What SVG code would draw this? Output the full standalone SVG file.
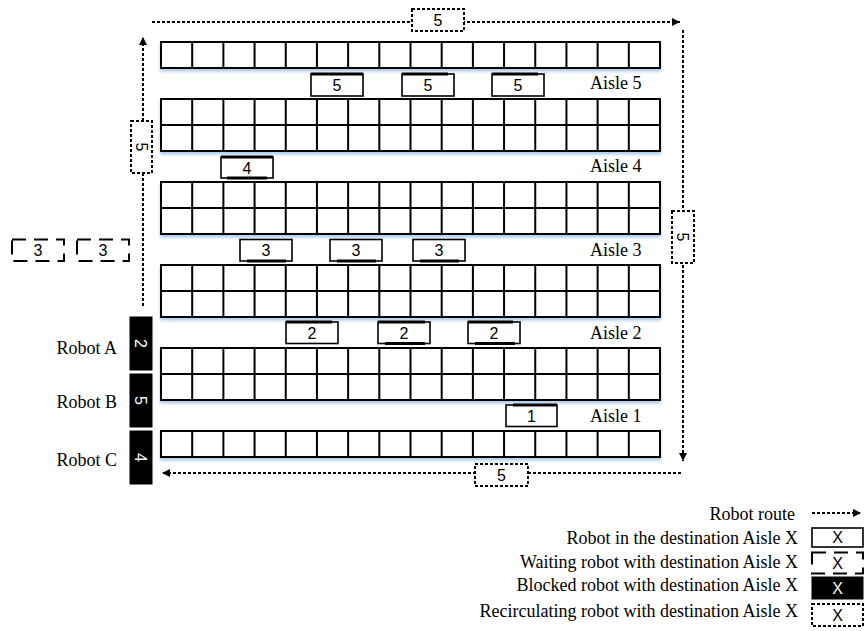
<svg xmlns="http://www.w3.org/2000/svg" width="864" height="631" viewBox="0 0 864 631">
<style>
.rk{fill:#fff;stroke:#000;stroke-width:2}
.gl{fill:none;stroke:#000;stroke-width:2}
.lbl{font-family:"Liberation Serif","Times New Roman",serif;font-size:18px;fill:#000}
.end{text-anchor:end}
.num{font-family:"Liberation Sans",Arial,sans-serif;font-size:16px;fill:#000;text-anchor:middle}
.numw{fill:#fff}
.rb{fill:#fff;stroke:#000;stroke-width:1.6}
.thk{stroke:#000;stroke-width:3.2;fill:none}
.route{fill:none;stroke:#000;stroke-width:2;stroke-dasharray:3 2}
.rc{fill:#fff;stroke:#000;stroke-width:2;stroke-dasharray:3 2}
.wt{fill:#fff;stroke:#000;stroke-width:2;stroke-dasharray:14 8}
.bk{fill:#000;stroke:#000;stroke-width:1}
</style>
<defs>
<filter id="glow" x="-5%" y="-30%" width="110%" height="170%">
<feDropShadow dx="0" dy="2.5" stdDeviation="1.6" flood-color="#8fbbe3" flood-opacity="0.75"/>
</filter>
<marker id="ah" markerUnits="userSpaceOnUse" markerWidth="10" markerHeight="10" refX="8" refY="4" orient="auto">
<path d="M0,0 L8,4 L0,8 Z" fill="#000"/>
</marker>
<path id="v26" d="M31.19,0V26M62.38,0V26M93.56,0V26M124.75,0V26M155.94,0V26M187.13,0V26M218.31,0V26M249.5,0V26M280.69,0V26M311.88,0V26M343.06,0V26M374.25,0V26M405.44,0V26M436.63,0V26M467.81,0V26"/>
<g id="rack1">
<rect class="rk" x="0" y="0" width="499" height="26"/>
<use href="#v26" class="gl"/>
</g>
<g id="rack2">
<rect class="rk" x="0" y="0" width="499" height="52"/>
<use href="#v26" class="gl"/>
<use href="#v26" class="gl" y="26"/>
<path class="gl" d="M0,26H499"/>
</g>
</defs>

<g id="racks">
<g id="rack-top" filter="url(#glow)"><use href="#rack1" x="161" y="42"/></g>
<g id="rack-a" filter="url(#glow)"><use href="#rack2" x="161" y="99"/></g>
<g id="rack-b" filter="url(#glow)"><use href="#rack2" x="161" y="182"/></g>
<g id="rack-c" filter="url(#glow)"><use href="#rack2" x="161" y="265"/></g>
<g id="rack-d" filter="url(#glow)"><use href="#rack2" x="161" y="348"/></g>
<g id="rack-bottom" filter="url(#glow)"><use href="#rack1" x="161" y="431"/></g>
</g>

<g id="aisle-labels">
<text class="lbl" x="590" y="89">Aisle 5</text>
<text class="lbl" x="590" y="172">Aisle 4</text>
<text class="lbl" x="590" y="255.5">Aisle 3</text>
<text class="lbl" x="590" y="338.5">Aisle 2</text>
<text class="lbl" x="590" y="421.5">Aisle 1</text>
</g>

<g id="connectors">
<path class="route" d="M152,22H680" marker-end="url(#ah)"/>
<path class="route" d="M683,30V461" marker-end="url(#ah)"/>
<path class="route" d="M681,473H162" marker-end="url(#ah)"/>
<path class="route" d="M143,306V37" marker-end="url(#ah)"/>
</g>

<g id="recirc-top"><rect class="rc" x="412" y="9" width="52" height="22"/><text class="num" x="438" y="26">5</text></g>
<g id="recirc-right"><rect class="rc" x="672" y="211" width="22" height="52"/><text class="num" x="683" y="243" transform="rotate(90 683 237)">5</text></g>
<g id="recirc-bottom"><rect class="rc" x="475" y="464" width="53" height="22"/><text class="num" x="501.5" y="481">5</text></g>
<g id="recirc-left"><rect class="rc" x="131" y="121" width="21" height="52"/><text class="num" x="141.5" y="153" transform="rotate(90 141.5 147)">5</text></g>

<g id="aisle5-robot1"><rect class="rb" x="311" y="74" width="52" height="22"/><path class="thk" d="M311,74H363"/><text class="num" x="337" y="91">5</text></g>
<g id="aisle5-robot2"><rect class="rb" x="402" y="74" width="52" height="22"/><path class="thk" d="M402,74H448"/><text class="num" x="428" y="91">5</text></g>
<g id="aisle5-robot3"><rect class="rb" x="492" y="74" width="52" height="22"/><path class="thk" d="M492,74H538"/><text class="num" x="518" y="91">5</text></g>

<g id="aisle4-robot1"><rect class="rb" x="221" y="157" width="52" height="21"/><path class="thk" d="M221,157H273M227,178H267"/><text class="num" x="247" y="174">4</text></g>

<g id="aisle3-robot1"><rect class="rb" x="240" y="239.5" width="52" height="21.5"/><path class="thk" d="M247,261H286"/><text class="num" x="266" y="256">3</text></g>
<g id="aisle3-robot2"><rect class="rb" x="330" y="239.5" width="52" height="21.5"/><path class="thk" d="M337,261H376"/><text class="num" x="356" y="256">3</text></g>
<g id="aisle3-robot3"><rect class="rb" x="413" y="239.5" width="52" height="21.5"/><path class="thk" d="M420,261H459"/><text class="num" x="439" y="256">3</text></g>

<g id="aisle2-robot1"><rect class="rb" x="286" y="322" width="52" height="21.5"/><path class="thk" d="M286,322H332"/><text class="num" x="312" y="338.5">2</text></g>
<g id="aisle2-robot2"><rect class="rb" x="378" y="322" width="52" height="21.5"/><path class="thk" d="M378,322H425M385,343.5H425"/><text class="num" x="404" y="338.5">2</text></g>
<g id="aisle2-robot3"><rect class="rb" x="468" y="322" width="52" height="21.5"/><path class="thk" d="M468,322H513M475,343.5H515"/><text class="num" x="494" y="338.5">2</text></g>

<g id="aisle1-robot1"><rect class="rb" x="506" y="405" width="51" height="21.5"/><path class="thk" d="M513,405H557"/><text class="num" x="531.5" y="421.5">1</text></g>

<g id="waiting-1"><rect class="wt" x="12" y="239.5" width="52" height="21.5"/><text class="num" x="38" y="256">3</text></g>
<g id="waiting-2"><rect class="wt" x="77" y="239.5" width="52" height="21.5"/><text class="num" x="103" y="256">3</text></g>

<g id="robot-a"><rect class="bk" x="130" y="317" width="22" height="53"/><text class="num numw" x="141" y="349.5" transform="rotate(90 141 343.5)">2</text><text class="lbl end" x="117" y="354">Robot A</text></g>
<g id="robot-b"><rect class="bk" x="130" y="374" width="22" height="53"/><text class="num numw" x="141" y="406.5" transform="rotate(90 141 400.5)">5</text><text class="lbl end" x="117" y="408">Robot B</text></g>
<g id="robot-c"><rect class="bk" x="130" y="431" width="22" height="53"/><text class="num numw" x="141" y="463.5" transform="rotate(90 141 457.5)">4</text><text class="lbl end" x="117" y="465.5">Robot C</text></g>

<g id="legend">
<text class="lbl end" x="795" y="520">Robot route</text>
<path class="route" d="M812,513H861" marker-end="url(#ah)"/>
<text class="lbl end" x="798" y="544">Robot in the destination Aisle X</text>
<rect class="rb" x="812" y="528" width="51" height="19"/>
<text class="num" x="837.5" y="543">X</text>
<text class="lbl end" x="798" y="567.5">Waiting robot with destination Aisle X</text>
<rect class="wt" x="812" y="552.5" width="51" height="21"/>
<text class="num" x="837.5" y="568.5">X</text>
<text class="lbl end" x="798" y="591">Blocked robot with destination Aisle X</text>
<rect class="bk" x="812" y="577" width="51" height="22"/>
<text class="num numw" x="837.5" y="593.5">X</text>
<text class="lbl end" x="798" y="617">Recirculating robot with destination Aisle X</text>
<rect class="rc" x="812" y="604" width="51" height="22"/>
<text class="num" x="837.5" y="620.5">X</text>
</g>
</svg>
